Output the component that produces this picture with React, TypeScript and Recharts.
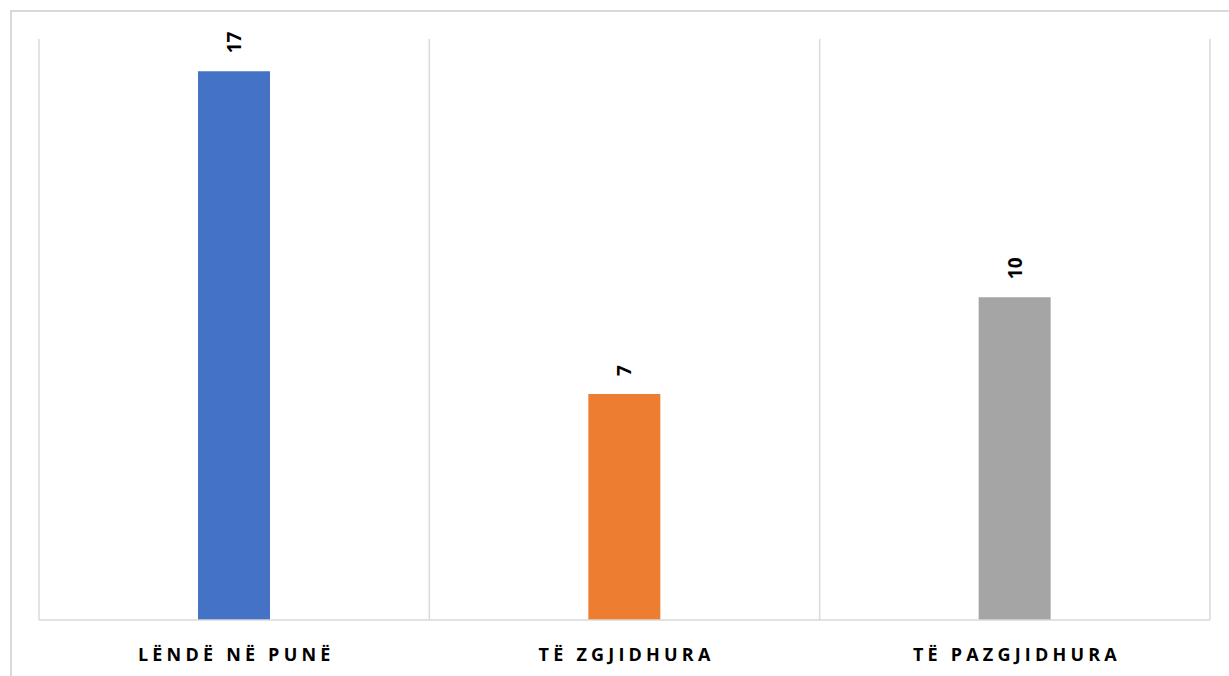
import { Bar, BarChart, CartesianGrid, Cell, LabelList, XAxis, YAxis } from "recharts";

const categories = ["LËNDË NË PUNË", "TË ZGJIDHURA", "TË PAZGJIDHURA"];
const values = [17, 7, 10];
const colors = ["#4472C4", "#ED7D31", "#A5A5A5"];

const data = categories.map((name, i) => ({ name, value: values[i] }));

const FONT = "'Open Sans', 'Liberation Sans', sans-serif";
const GRID = "#d9d9d9";

function CategoryTick(props: any) {
  const { x, y, payload } = props;
  const spacing = 4.2;
  return (
    <text
      x={x + spacing / 2}
      y={y + 39}
      textAnchor="middle"
      fontFamily={FONT}
      fontWeight={700}
      fontSize={18}
      letterSpacing={spacing}
      fill="#000"
    >
      {payload.value}
    </text>
  );
}

function ValueLabel(props: any) {
  const { x, y, width, value } = props;
  const cx = x + width / 2;
  const ty = y - 18;
  return (
    <text
      x={cx}
      y={ty}
      transform={`rotate(-90, ${cx}, ${ty})`}
      textAnchor="start"
      dominantBaseline="central"
      fontFamily={FONT}
      fontWeight={700}
      fontSize={19}
      fill="#000"
    >
      {value}
    </text>
  );
}

export default function App() {
  return (
    <div
      style={{
        position: "absolute",
        left: 0,
        top: 0,
        width: 1229,
        height: 676,
        overflow: "hidden",
        background: "#fff",
      }}
    >
      <div
        style={{
          position: "absolute",
          left: 10,
          top: 10,
          width: 1300,
          height: 800,
          borderTop: `2px solid ${GRID}`,
          borderLeft: `2px solid ${GRID}`,
        }}
      />
      <div style={{ position: "absolute", left: 0, top: 0 }}>
        <BarChart
          width={1229}
          height={676}
          data={data}
          margin={{ top: 39, right: 19, left: 39, bottom: 0 }}
        >
          <CartesianGrid
            horizontal={false}
            stroke={GRID}
            strokeWidth={1.5}
            verticalCoordinatesGenerator={({ offset }: any) =>
              Array.from(
                { length: categories.length + 1 },
                (_, i) => offset.left + (i * offset.width) / categories.length
              )
            }
          />
          <XAxis
            dataKey="name"
            height={56}
            tickLine={false}
            tickSize={0}
            axisLine={{ stroke: GRID, strokeWidth: 1.5 }}
            tick={<CategoryTick />}
            interval={0}
          />
          <YAxis hide domain={[0, 18]} />
          <Bar dataKey="value" barSize={72} isAnimationActive={false}>
            {data.map((d, i) => (
              <Cell key={d.name} fill={colors[i]} />
            ))}
            <LabelList dataKey="value" content={<ValueLabel />} />
          </Bar>
        </BarChart>
      </div>
    </div>
  );
}
